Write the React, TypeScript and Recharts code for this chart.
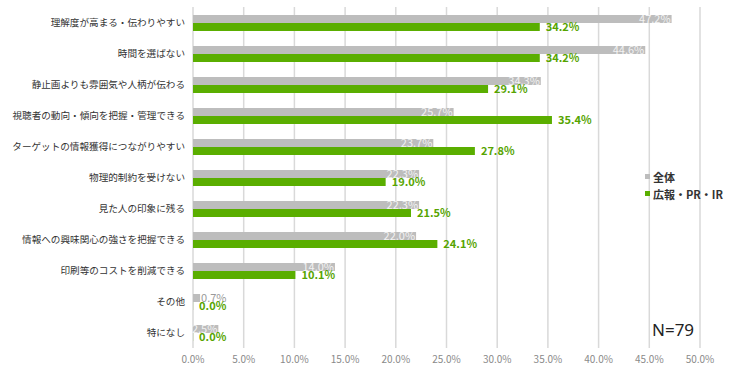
import { BarChart, Bar, XAxis, YAxis, CartesianGrid, LabelList } from 'recharts';

const CATEGORIES = [
  '理解度が高まる・伝わりやすい',
  '時間を選ばない',
  '静止画よりも雰囲気や人柄が伝わる',
  '視聴者の動向・傾向を把握・管理できる',
  'ターゲットの情報獲得につながりやすい',
  '物理的制約を受けない',
  '見た人の印象に残る',
  '情報への興味関心の強さを把握できる',
  '印刷等のコストを削減できる',
  'その他',
  '特になし',
];

const ALL = [47.2, 44.6, 34.3, 25.7, 23.7, 22.3, 22.3, 22.0, 14.0, 0.7, 2.5];
const PR = [34.2, 34.2, 29.1, 35.4, 27.8, 19.0, 21.5, 24.1, 10.1, 0.0, 0.0];

const X_TICKS = [0, 5, 10, 15, 20, 25, 30, 35, 40, 45, 50];

const GRAY = '#bdbdbd';
const GREEN = '#5aae00';
const GREEN_TEXT = '#56a400';
const FONT = '"Noto Sans CJK JP", "Noto Sans", sans-serif';

const data = CATEGORIES.map((name, i) => ({ name, all: ALL[i], pr: PR[i] }));

function GrayLabel(props: any) {
  const { x, y, width, height, value } = props;
  const text = `${Number(value).toFixed(1)}%`;
  const inside = width > 20;
  return (
    <text
      x={inside ? x + width - 1 : x + width + 1}
      y={y + height / 2}
      dy={4}
      textAnchor={inside ? 'end' : 'start'}
      fontSize={11}
      fontFamily={FONT}
      fill={inside ? '#f2f2f2' : '#9a9a9a'}
    >
      {text}
    </text>
  );
}

function GreenLabel(props: any) {
  const { x, y, width, height, value } = props;
  return (
    <text
      x={x + width + 6}
      y={y + height / 2}
      dy={4}
      textAnchor="start"
      fontSize={11}
      fontWeight={700}
      fontFamily={FONT}
      fill={GREEN_TEXT}
    >
      {`${Number(value).toFixed(1)}%`}
    </text>
  );
}

function LegendBox() {
  const items = [
    { label: '全体', color: GRAY },
    { label: '広報・PR・IR', color: GREEN },
  ];
  return (
    <div style={{ position: 'absolute', left: 645, top: 168, fontFamily: FONT, fontSize: 11, fontWeight: 700, color: '#333' }}>
      {items.map((it) => (
        <div key={it.label} style={{ display: 'flex', alignItems: 'center', height: 17 }}>
          <span style={{ width: 5, height: 5, background: it.color, marginRight: 3, display: 'inline-block' }} />
          {it.label}
        </div>
      ))}
    </div>
  );
}

export default function App() {
  return (
    <div style={{ position: 'absolute', left: 0, top: 0, width: 753, height: 375, background: '#fff' }}>
      <BarChart
        width={753}
        height={375}
        data={data}
        layout="vertical"
        margin={{ top: 7, right: 53, bottom: 7, left: 0 }}
        barGap={0}
        barCategoryGap="48%"
      >
        <CartesianGrid horizontal={false} stroke="#d9d9d9" strokeWidth={1.5} />
        <XAxis
          type="number"
          domain={[0, 50]}
          ticks={X_TICKS}
          tickFormatter={(v: number) => `${v.toFixed(1)}%`}
          axisLine={false}
          tickLine={false}
          height={20}
          tick={{ fontSize: 10, fill: '#8a8a8a', fontFamily: FONT }}
          interval={0}
        />
        <YAxis
          type="category"
          dataKey="name"
          width={193}
          axisLine={false}
          tickLine={false}
          tickMargin={2}
          interval={0}
          tick={{ fontSize: 9.6, fill: '#333', fontFamily: FONT }}
        />
        <Bar dataKey="all" name="全体" fill={GRAY} barSize={8} isAnimationActive={false}>
          <LabelList dataKey="all" content={GrayLabel} />
        </Bar>
        <Bar dataKey="pr" name="広報・PR・IR" fill={GREEN} barSize={8} minPointSize={0.1} isAnimationActive={false}>
          <LabelList dataKey="pr" content={GreenLabel} />
        </Bar>
      </BarChart>
      <LegendBox />
      <div
        style={{
          position: 'absolute',
          left: 652,
          top: 318,
          fontFamily: '"Noto Sans", sans-serif',
          fontSize: 17,
          color: '#222',
        }}
      >
        N=79
      </div>
    </div>
  );
}
